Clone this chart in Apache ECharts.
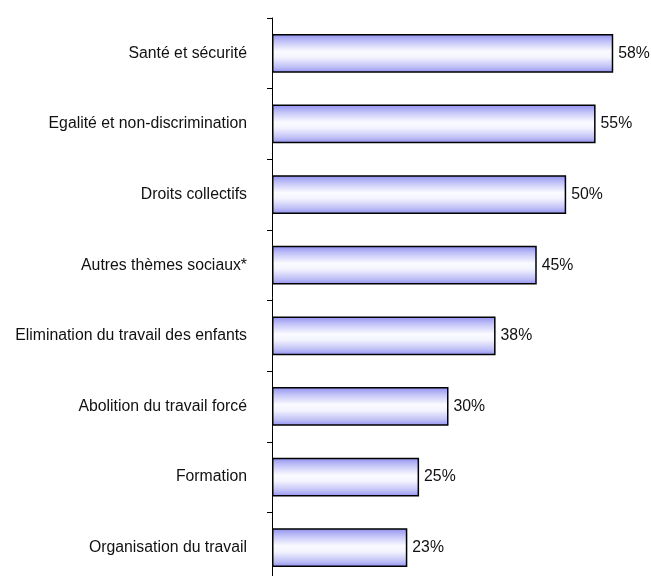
<!DOCTYPE html>
<html><head><meta charset="utf-8">
<script src="https://cdn.jsdelivr.net/npm/echarts@6/dist/echarts.min.js"></script>
<style>html,body{margin:0;padding:0;background:#fff}#c{width:651px;height:576px}</style>
</head><body><div id="c"></div>
<script>
const categories = ["Santé et sécurité","Egalité et non-discrimination","Droits collectifs","Autres thèmes sociaux*","Elimination du travail des enfants","Abolition du travail forcé","Formation","Organisation du travail"];
const values = [58,55,50,45,38,30,25,23];
const FONT = '"Liberation Sans", Arial, sans-serif';

const chart = echarts.init(document.getElementById('c'), null, {renderer:'canvas'});
chart.setOption({
  animation:false,
  textStyle:{fontFamily:FONT},
  grid:{left:272, top:18, right:26, bottom:-7, containLabel:false, outerBoundsMode:'none'},
  xAxis:{type:'value', min:0, max:60, show:false},
  yAxis:{type:'category', data:categories, inverse:true,
    axisLine:{show:true, lineStyle:{color:'#000', width:1}},
    axisTick:{show:true, length:5, inside:false, lineStyle:{color:'#000'}},
    axisLabel:{color:'#111', fontSize:15.8, margin:25, fontFamily:FONT}
  },
  series:[{type:'bar', data:values, barWidth:'55%',
    itemStyle:{borderColor:'#000', borderWidth:1.5,
      color:new echarts.graphic.LinearGradient(0,0,0,1,[
        {offset:0,color:'#8e8ef0'},{offset:0.2,color:'#c4c4f8'},{offset:0.45,color:'#fafaff'},{offset:0.6,color:'#f4f4ff'},{offset:0.85,color:'#c0c0f6'},{offset:1,color:'#9090f2'}])},
    label:{show:true, position:'right', distance:5, formatter:'{c}%', color:'#111', fontSize:15.8, fontFamily:FONT}
  }]
});
</script></body></html>
